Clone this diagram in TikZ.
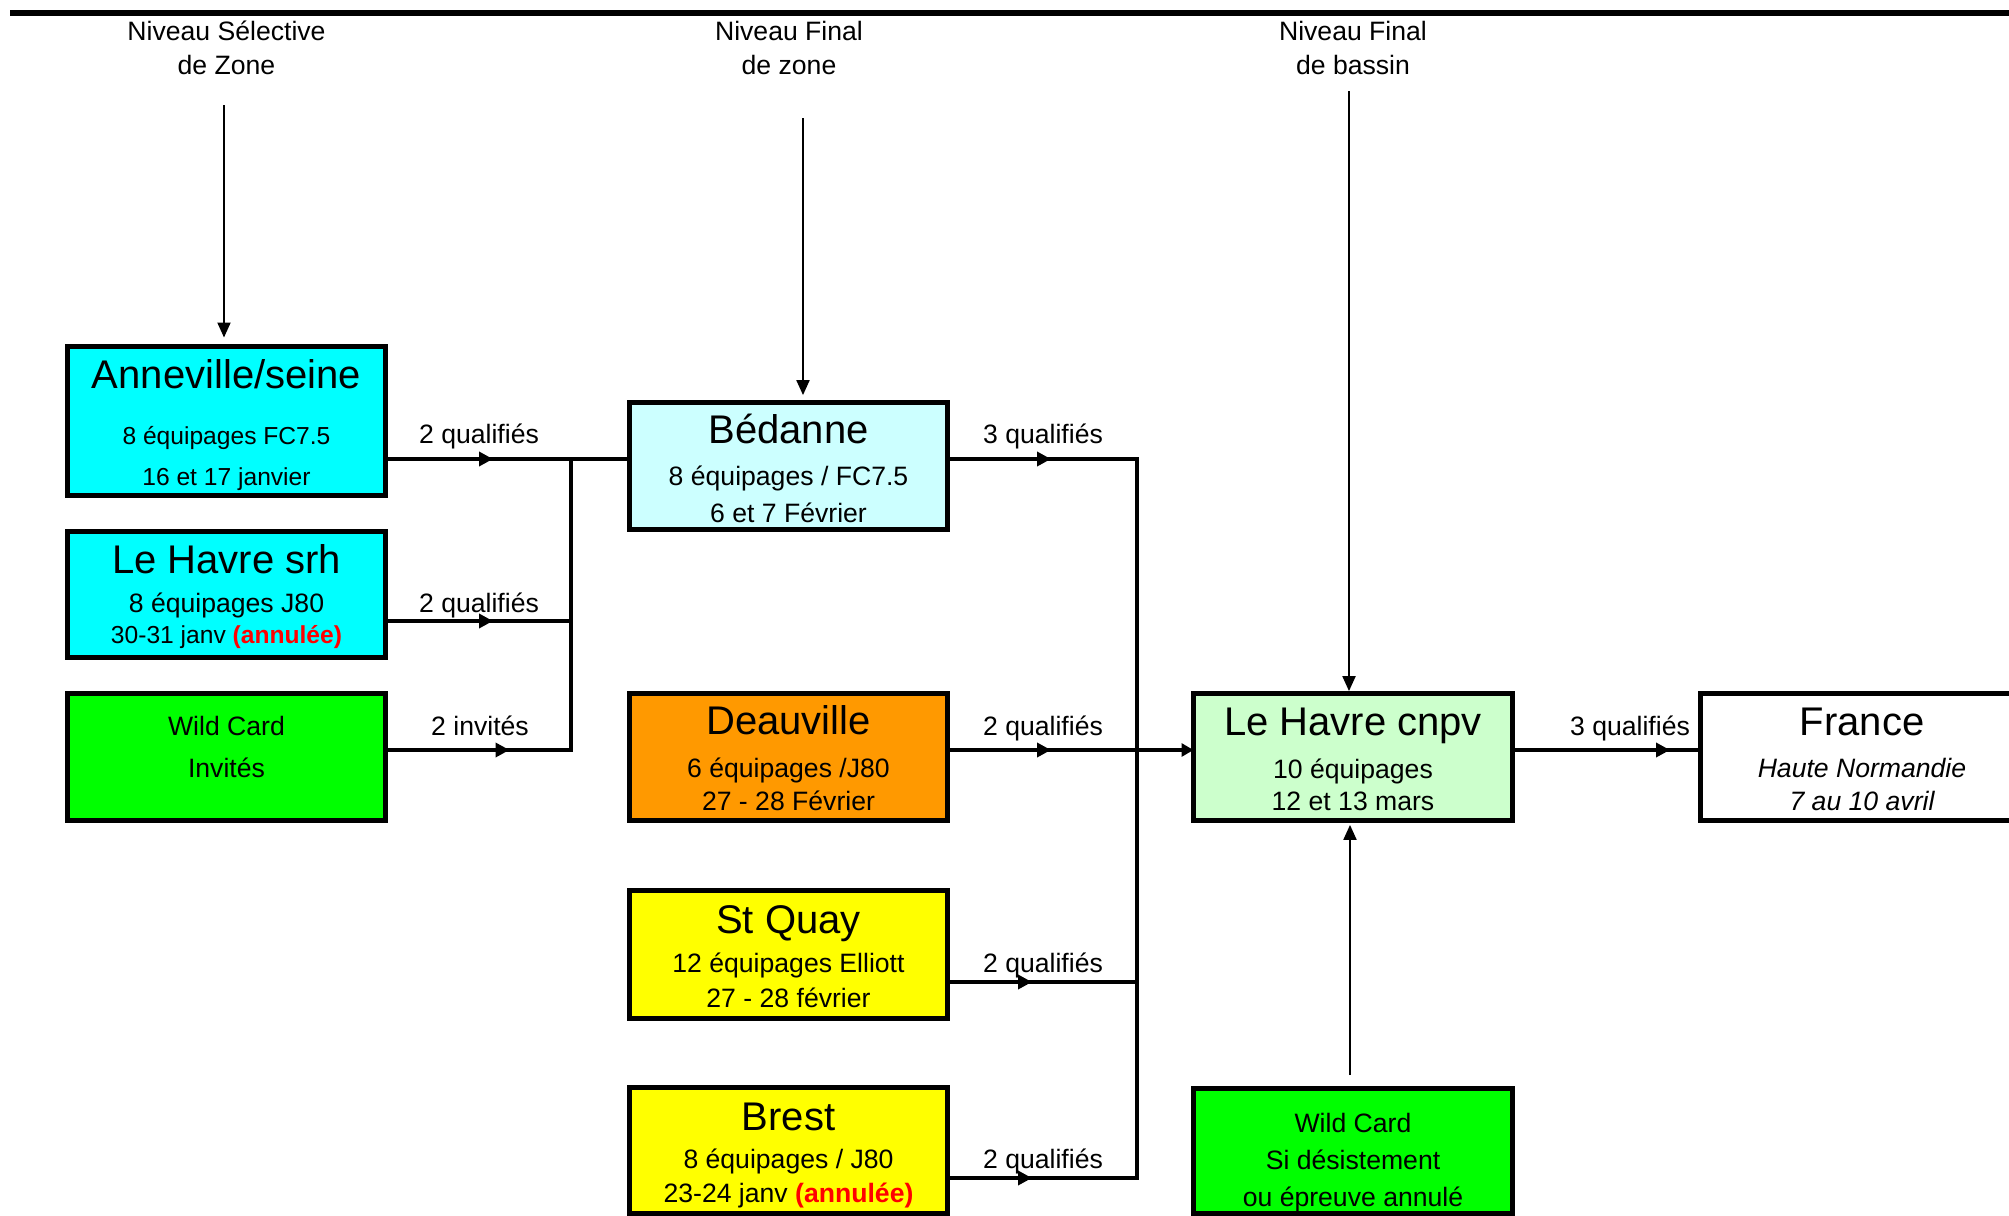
\documentclass[tikz,border=0pt]{standalone}
\usepackage{fontspec}
\setmainfont{Liberation Sans}
\usetikzlibrary{arrows.meta,decorations.markings}
\definecolor{cyanbox}{HTML}{00FFFF}
\definecolor{lightcyanbox}{HTML}{CCFFFF}
\definecolor{greenbox}{HTML}{00FF00}
\definecolor{orangebox}{HTML}{FF9900}
\definecolor{yellowbox}{HTML}{FFFF00}
\definecolor{lightgreenbox}{HTML}{CCFFCC}
\definecolor{annred}{HTML}{FF0000}
\begin{document}
\begin{tikzpicture}[x=0.5pt,y=-0.5pt,
  box/.style={draw=black, line width=2.8pt, rectangle, outer sep=0pt, inner sep=0pt, minimum width=159pt},
  txt/.style={anchor=base, inner sep=0pt, outer sep=0pt},
  ttl/.style={txt, font=\fontsize{20}{24}\selectfont},
  bdy/.style={txt, font=\fontsize{13.3}{16}\selectfont},
  sml/.style={txt, font=\fontsize{12.3}{15}\selectfont},
  conn/.style={line width=2.4pt, line cap=rect},
  midarrow/.style={postaction={decorate}, decoration={markings, mark=at position #1 with {\arrow{Triangle[length=7pt,width=7pt]}}}},
  thinarrow/.style={line width=1pt, -{Triangle[length=7.5pt,width=6.5pt]}},
]
\clip (0,0) rectangle (2009,1216);
\useasboundingbox (0,0) rectangle (2009,1216);

% top rule
\coordinate (topL) at (10,13);
\coordinate (topR) at (2009,13);
\draw[line width=3pt] (topL) -- (topR);

% headers
\node[bdy] (h1a) at (226.5,40) {Niveau Sélective};
\node[bdy] (h1b) at (226.5,74) {de Zone};
\node[bdy] (h2a) at (789,40) {Niveau Final};
\node[bdy] (h2b) at (789,74) {de zone};
\node[bdy] (h3a) at (1353,40) {Niveau Final};
\node[bdy] (h3b) at (1353,74) {de bassin};

% boxes
\node[box, fill=cyanbox, minimum height=74.5pt] (anne) at (226.5,421) {};
\node[box, fill=cyanbox, minimum height=63pt] (lhsrh) at (226.5,594.5) {};
\node[box, fill=greenbox, minimum height=63.5pt] (wildA) at (226.5,757) {};
\node[box, fill=lightcyanbox, minimum height=63.5pt] (bed) at (788.5,466) {};
\node[box, fill=orangebox, minimum height=63.5pt] (deau) at (788.5,757) {};
\node[box, fill=yellowbox, minimum height=64pt] (stq) at (788.5,954.5) {};
\node[box, fill=yellowbox, minimum height=63pt] (brest) at (788.5,1150.5) {};
\node[box, fill=lightgreenbox, minimum height=63.5pt, minimum width=159.5pt] (cnpv) at (1353,757) {};
\node[box, fill=white, minimum height=63.5pt, minimum width=161.5pt] (france) at (1862,757) {};
\node[box, fill=greenbox, minimum height=62.5pt, minimum width=159.5pt] (wildB) at (1353,1151) {};

% box texts
\node[ttl] (anneT) at (226.5,388) {Anneville/seine};
\node[sml] (anneA) at (226.5,444) {8 équipages FC7.5};
\node[sml] (anneB) at (226.5,485) {16 et 17 janvier};

\node[ttl] (lhsrhT) at (226.5,573) {Le Havre srh};
\node[bdy] (lhsrhA) at (226.5,612) {8 équipages J80};
\node[sml] (lhsrhB) at (226.5,643) {30-31 janv \textbf{\textcolor{annred}{(annulée)}}};

\node[bdy] (wildAT) at (226.5,735) {Wild Card};
\node[bdy] (wildAA) at (226.5,777) {Invités};

\node[ttl] (bedT) at (788.5,443) {Bédanne};
\node[bdy] (bedA) at (788.5,485) {8 équipages / FC7.5};
\node[bdy] (bedB) at (788.5,522) {6 et 7 Février};

\node[ttl] (deauT) at (788.5,734) {Deauville};
\node[bdy] (deauA) at (788.5,777) {6 équipages /J80};
\node[bdy] (deauB) at (788.5,810) {27 - 28 Février};

\node[ttl] (stqT) at (788.5,933) {St Quay};
\node[bdy] (stqA) at (788.5,972) {12 équipages Elliott};
\node[bdy] (stqB) at (788.5,1007) {27 - 28 février};

\node[ttl] (brestT) at (788.5,1130) {Brest};
\node[bdy] (brestA) at (788.5,1168) {8 équipages / J80};
\node[bdy] (brestB) at (788.5,1202) {23-24 janv \textbf{\textcolor{annred}{(annulée)}}};

\node[ttl] (cnpvT) at (1353,735) {Le Havre cnpv};
\node[bdy] (cnpvA) at (1353,778) {10 équipages};
\node[bdy] (cnpvB) at (1353,810) {12 et 13 mars};

\node[ttl] (franceT) at (1862,735) {France};
\node[bdy, font=\fontsize{13.3}{16}\selectfont\itshape] (franceA) at (1862,777) {Haute Normandie};
\node[bdy, font=\fontsize{13.3}{16}\selectfont\itshape] (franceB) at (1862,810) {7 au 10 avril};

\node[bdy] (wildBT) at (1353,1132) {Wild Card};
\node[bdy] (wildBA) at (1353,1169) {Si désistement};
\node[bdy] (wildBB) at (1353,1206) {ou épreuve annulé};

% connector labels
\node[bdy] (l1) at (479,443) {2 qualifiés};
\node[bdy] (l2) at (479,612) {2 qualifiés};
\node[bdy] (l3) at (480,735) {2 invités};
\node[bdy] (l4) at (1043,443) {3 qualifiés};
\node[bdy] (l5) at (1043,735) {2 qualifiés};
\node[bdy] (l6) at (1043,972) {2 qualifiés};
\node[bdy] (l7) at (1043,1168) {2 qualifiés};
\node[bdy] (l8) at (1630,735) {3 qualifiés};

% thin level arrows
\coordinate (s1) at (224,105);
\coordinate (s2) at (803,118);
\coordinate (s3) at (1349,91);
\coordinate (s4) at (1350,1075);
\draw[thinarrow, shorten >=4.5pt] (s1) -- (s1 |- anne.north);
\draw[thinarrow, shorten >=3.7pt] (s2) -- (s2 |- bed.north);
\draw[thinarrow, shorten >=1.2pt] (s3) -- (s3 |- cnpv.north);
\draw[thinarrow, shorten >=2.2pt] (s4) -- (s4 |- cnpv.south);

% junctions
\coordinate (jA) at (571,459);
\coordinate (jL) at (571,621);
\coordinate (jW) at (571,750);
\coordinate (jB) at (1137,459);
\coordinate (jS) at (1137,982);
\coordinate (jR) at (1137,1178);
\coordinate (yD) at (1137,750);

% thick connectors
\draw[conn, midarrow=53.75pt] (anne.east |- jA) -- (bed.west |- jA);
\draw[conn, midarrow=53.75pt] (lhsrh.east |- jL) -- (jL);
\draw[conn, midarrow=62pt] (wildA.east |- jW) -- (jW) -- (jA);
\draw[conn, midarrow=51.75pt] (bed.east |- jB) -- (jB) -- (jR);
\draw[conn, midarrow=42.25pt] (stq.east |- jS) -- (jS);
\draw[conn, midarrow=42.25pt] (brest.east |- jR) -- (jR);
\draw[conn, midarrow=51.75pt, -{Triangle[length=6pt,width=6.5pt]}] (deau.east |- yD) -- (cnpv.west |- yD);
\draw[conn, midarrow=78.75pt] (cnpv.east |- yD) -- (france.west |- yD);
\end{tikzpicture}
\end{document}
